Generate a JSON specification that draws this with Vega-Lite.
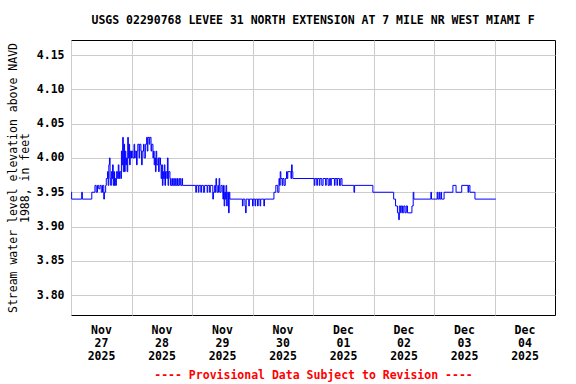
{
  "$schema": "https://vega.github.io/schema/vega-lite/v6.json",
  "width": 484,
  "height": 275,
  "autosize": {"type": "none"},
  "padding": {"left": 71, "top": 40, "right": 21, "bottom": 69},
  "background": "white",
  "config": {
    "view": {"stroke": "black", "strokeWidth": 1},
    "font": "DejaVu Sans Mono"
  },
  "title": {
    "text": "USGS 02290768 LEVEE 31 NORTH EXTENSION AT 7 MILE NR WEST MIAMI F",
    "font": "DejaVu Sans Mono",
    "fontSize": 11.5,
    "fontWeight": "bold",
    "color": "black",
    "anchor": "middle",
    "offset": 14
  },
  "data": {
    "values": [
      {"t": "2025-11-27T00:00", "v": 3.95},
      {"t": "2025-11-27T00:15", "v": 3.94},
      {"t": "2025-11-27T04:15", "v": 3.95},
      {"t": "2025-11-27T04:30", "v": 3.94},
      {"t": "2025-11-27T08:15", "v": 3.95},
      {"t": "2025-11-27T09:30", "v": 3.96},
      {"t": "2025-11-27T10:00", "v": 3.95},
      {"t": "2025-11-27T10:30", "v": 3.96},
      {"t": "2025-11-27T11:00", "v": 3.955},
      {"t": "2025-11-27T11:30", "v": 3.96},
      {"t": "2025-11-27T12:00", "v": 3.95},
      {"t": "2025-11-27T12:30", "v": 3.96},
      {"t": "2025-11-27T13:00", "v": 3.94},
      {"t": "2025-11-27T13:15", "v": 3.95},
      {"t": "2025-11-27T13:45", "v": 3.96},
      {"t": "2025-11-27T14:00", "v": 3.97},
      {"t": "2025-11-27T14:30", "v": 3.98},
      {"t": "2025-11-27T14:45", "v": 3.96},
      {"t": "2025-11-27T15:00", "v": 3.99},
      {"t": "2025-11-27T15:15", "v": 4.00},
      {"t": "2025-11-27T15:30", "v": 3.97},
      {"t": "2025-11-27T15:45", "v": 3.96},
      {"t": "2025-11-27T16:00", "v": 3.98},
      {"t": "2025-11-27T16:15", "v": 3.97},
      {"t": "2025-11-27T16:30", "v": 3.99},
      {"t": "2025-11-27T16:45", "v": 3.96},
      {"t": "2025-11-27T17:00", "v": 3.98},
      {"t": "2025-11-27T17:15", "v": 3.96},
      {"t": "2025-11-27T17:30", "v": 3.97},
      {"t": "2025-11-27T17:45", "v": 3.96},
      {"t": "2025-11-27T18:00", "v": 3.98},
      {"t": "2025-11-27T18:30", "v": 3.97},
      {"t": "2025-11-27T18:45", "v": 3.99},
      {"t": "2025-11-27T19:00", "v": 3.97},
      {"t": "2025-11-27T19:15", "v": 3.98},
      {"t": "2025-11-27T19:45", "v": 3.97},
      {"t": "2025-11-27T20:00", "v": 4.01},
      {"t": "2025-11-27T20:15", "v": 3.99},
      {"t": "2025-11-27T20:30", "v": 4.03},
      {"t": "2025-11-27T20:45", "v": 3.98},
      {"t": "2025-11-27T21:00", "v": 4.02},
      {"t": "2025-11-27T21:15", "v": 3.98},
      {"t": "2025-11-27T21:30", "v": 4.01},
      {"t": "2025-11-27T21:45", "v": 3.99},
      {"t": "2025-11-27T22:00", "v": 4.00},
      {"t": "2025-11-27T22:15", "v": 3.98},
      {"t": "2025-11-27T22:30", "v": 4.03},
      {"t": "2025-11-27T22:45", "v": 4.00},
      {"t": "2025-11-27T23:00", "v": 4.02},
      {"t": "2025-11-27T23:15", "v": 3.99},
      {"t": "2025-11-27T23:30", "v": 4.01},
      {"t": "2025-11-27T23:45", "v": 4.00},
      {"t": "2025-11-28T00:00", "v": 4.01},
      {"t": "2025-11-28T00:30", "v": 4.00},
      {"t": "2025-11-28T01:00", "v": 4.02},
      {"t": "2025-11-28T01:15", "v": 4.00},
      {"t": "2025-11-28T01:30", "v": 4.01},
      {"t": "2025-11-28T02:00", "v": 3.99},
      {"t": "2025-11-28T02:15", "v": 4.01},
      {"t": "2025-11-28T02:30", "v": 4.02},
      {"t": "2025-11-28T03:00", "v": 4.00},
      {"t": "2025-11-28T03:15", "v": 4.02},
      {"t": "2025-11-28T03:45", "v": 4.01},
      {"t": "2025-11-28T04:00", "v": 3.99},
      {"t": "2025-11-28T04:15", "v": 4.01},
      {"t": "2025-11-28T04:45", "v": 4.02},
      {"t": "2025-11-28T05:00", "v": 4.00},
      {"t": "2025-11-28T05:30", "v": 4.02},
      {"t": "2025-11-28T06:00", "v": 4.03},
      {"t": "2025-11-28T06:15", "v": 4.01},
      {"t": "2025-11-28T06:30", "v": 4.03},
      {"t": "2025-11-28T07:00", "v": 4.02},
      {"t": "2025-11-28T07:15", "v": 4.03},
      {"t": "2025-11-28T07:45", "v": 4.01},
      {"t": "2025-11-28T08:00", "v": 4.02},
      {"t": "2025-11-28T08:30", "v": 4.00},
      {"t": "2025-11-28T08:45", "v": 4.01},
      {"t": "2025-11-28T09:00", "v": 3.99},
      {"t": "2025-11-28T09:15", "v": 4.00},
      {"t": "2025-11-28T09:30", "v": 3.98},
      {"t": "2025-11-28T09:45", "v": 4.01},
      {"t": "2025-11-28T10:00", "v": 3.99},
      {"t": "2025-11-28T10:30", "v": 4.00},
      {"t": "2025-11-28T10:45", "v": 3.98},
      {"t": "2025-11-28T11:00", "v": 4.00},
      {"t": "2025-11-28T11:30", "v": 3.99},
      {"t": "2025-11-28T11:45", "v": 3.97},
      {"t": "2025-11-28T12:00", "v": 3.99},
      {"t": "2025-11-28T12:15", "v": 3.96},
      {"t": "2025-11-28T12:30", "v": 3.98},
      {"t": "2025-11-28T12:45", "v": 3.97},
      {"t": "2025-11-28T13:00", "v": 3.99},
      {"t": "2025-11-28T13:15", "v": 3.96},
      {"t": "2025-11-28T13:30", "v": 3.98},
      {"t": "2025-11-28T14:00", "v": 3.97},
      {"t": "2025-11-28T14:15", "v": 4.00},
      {"t": "2025-11-28T14:30", "v": 3.96},
      {"t": "2025-11-28T14:45", "v": 3.98},
      {"t": "2025-11-28T15:15", "v": 3.97},
      {"t": "2025-11-28T15:30", "v": 3.96},
      {"t": "2025-11-28T16:00", "v": 3.97},
      {"t": "2025-11-28T16:15", "v": 3.96},
      {"t": "2025-11-28T16:45", "v": 3.97},
      {"t": "2025-11-28T17:00", "v": 3.96},
      {"t": "2025-11-28T17:30", "v": 3.97},
      {"t": "2025-11-28T17:45", "v": 3.96},
      {"t": "2025-11-28T18:15", "v": 3.97},
      {"t": "2025-11-28T18:30", "v": 3.96},
      {"t": "2025-11-28T19:00", "v": 3.97},
      {"t": "2025-11-28T19:30", "v": 3.96},
      {"t": "2025-11-28T20:00", "v": 3.97},
      {"t": "2025-11-28T20:15", "v": 3.96},
      {"t": "2025-11-29T01:30", "v": 3.95},
      {"t": "2025-11-29T01:45", "v": 3.96},
      {"t": "2025-11-29T02:30", "v": 3.95},
      {"t": "2025-11-29T02:45", "v": 3.96},
      {"t": "2025-11-29T03:30", "v": 3.95},
      {"t": "2025-11-29T03:45", "v": 3.96},
      {"t": "2025-11-29T04:30", "v": 3.95},
      {"t": "2025-11-29T05:00", "v": 3.96},
      {"t": "2025-11-29T06:00", "v": 3.95},
      {"t": "2025-11-29T06:15", "v": 3.96},
      {"t": "2025-11-29T07:00", "v": 3.95},
      {"t": "2025-11-29T07:15", "v": 3.96},
      {"t": "2025-11-29T08:15", "v": 3.94},
      {"t": "2025-11-29T08:30", "v": 3.95},
      {"t": "2025-11-29T09:00", "v": 3.96},
      {"t": "2025-11-29T09:15", "v": 3.95},
      {"t": "2025-11-29T09:30", "v": 3.97},
      {"t": "2025-11-29T09:45", "v": 3.96},
      {"t": "2025-11-29T10:00", "v": 3.95},
      {"t": "2025-11-29T10:30", "v": 3.96},
      {"t": "2025-11-29T10:45", "v": 3.97},
      {"t": "2025-11-29T11:00", "v": 3.95},
      {"t": "2025-11-29T11:30", "v": 3.96},
      {"t": "2025-11-29T12:00", "v": 3.95},
      {"t": "2025-11-29T12:15", "v": 3.94},
      {"t": "2025-11-29T12:30", "v": 3.96},
      {"t": "2025-11-29T12:45", "v": 3.93},
      {"t": "2025-11-29T13:00", "v": 3.95},
      {"t": "2025-11-29T13:15", "v": 3.94},
      {"t": "2025-11-29T13:30", "v": 3.96},
      {"t": "2025-11-29T13:45", "v": 3.93},
      {"t": "2025-11-29T14:00", "v": 3.95},
      {"t": "2025-11-29T14:30", "v": 3.92},
      {"t": "2025-11-29T14:45", "v": 3.95},
      {"t": "2025-11-29T15:00", "v": 3.94},
      {"t": "2025-11-29T20:00", "v": 3.93},
      {"t": "2025-11-29T20:15", "v": 3.94},
      {"t": "2025-11-29T21:00", "v": 3.93},
      {"t": "2025-11-29T21:15", "v": 3.92},
      {"t": "2025-11-29T21:30", "v": 3.94},
      {"t": "2025-11-29T22:30", "v": 3.93},
      {"t": "2025-11-29T22:45", "v": 3.94},
      {"t": "2025-11-30T00:00", "v": 3.93},
      {"t": "2025-11-30T00:15", "v": 3.94},
      {"t": "2025-11-30T01:00", "v": 3.93},
      {"t": "2025-11-30T01:15", "v": 3.94},
      {"t": "2025-11-30T02:00", "v": 3.93},
      {"t": "2025-11-30T02:15", "v": 3.94},
      {"t": "2025-11-30T03:00", "v": 3.93},
      {"t": "2025-11-30T03:15", "v": 3.94},
      {"t": "2025-11-30T04:30", "v": 3.93},
      {"t": "2025-11-30T04:45", "v": 3.94},
      {"t": "2025-11-30T08:30", "v": 3.95},
      {"t": "2025-11-30T09:15", "v": 3.96},
      {"t": "2025-11-30T10:00", "v": 3.95},
      {"t": "2025-11-30T10:30", "v": 3.97},
      {"t": "2025-11-30T10:45", "v": 3.96},
      {"t": "2025-11-30T11:00", "v": 3.98},
      {"t": "2025-11-30T11:15", "v": 3.97},
      {"t": "2025-11-30T11:45", "v": 3.96},
      {"t": "2025-11-30T12:00", "v": 3.97},
      {"t": "2025-11-30T12:30", "v": 3.96},
      {"t": "2025-11-30T13:00", "v": 3.97},
      {"t": "2025-11-30T13:30", "v": 3.98},
      {"t": "2025-11-30T13:45", "v": 3.97},
      {"t": "2025-11-30T14:00", "v": 3.98},
      {"t": "2025-11-30T15:00", "v": 3.98},
      {"t": "2025-11-30T15:15", "v": 3.97},
      {"t": "2025-11-30T15:30", "v": 3.99},
      {"t": "2025-11-30T15:45", "v": 3.98},
      {"t": "2025-11-30T16:00", "v": 3.97},
      {"t": "2025-12-01T00:30", "v": 3.96},
      {"t": "2025-12-01T00:45", "v": 3.97},
      {"t": "2025-12-01T01:30", "v": 3.96},
      {"t": "2025-12-01T01:45", "v": 3.97},
      {"t": "2025-12-01T02:30", "v": 3.96},
      {"t": "2025-12-01T02:45", "v": 3.97},
      {"t": "2025-12-01T03:30", "v": 3.96},
      {"t": "2025-12-01T04:00", "v": 3.97},
      {"t": "2025-12-01T05:00", "v": 3.96},
      {"t": "2025-12-01T05:15", "v": 3.97},
      {"t": "2025-12-01T06:00", "v": 3.96},
      {"t": "2025-12-01T06:30", "v": 3.97},
      {"t": "2025-12-01T07:00", "v": 3.96},
      {"t": "2025-12-01T07:15", "v": 3.97},
      {"t": "2025-12-01T08:30", "v": 3.96},
      {"t": "2025-12-01T08:45", "v": 3.97},
      {"t": "2025-12-01T09:30", "v": 3.96},
      {"t": "2025-12-01T09:45", "v": 3.97},
      {"t": "2025-12-01T10:30", "v": 3.96},
      {"t": "2025-12-01T11:00", "v": 3.97},
      {"t": "2025-12-01T11:30", "v": 3.96},
      {"t": "2025-12-01T16:15", "v": 3.95},
      {"t": "2025-12-01T16:30", "v": 3.96},
      {"t": "2025-12-01T23:45", "v": 3.95},
      {"t": "2025-12-02T08:00", "v": 3.94},
      {"t": "2025-12-02T08:45", "v": 3.93},
      {"t": "2025-12-02T09:30", "v": 3.92},
      {"t": "2025-12-02T10:00", "v": 3.91},
      {"t": "2025-12-02T10:15", "v": 3.93},
      {"t": "2025-12-02T10:45", "v": 3.92},
      {"t": "2025-12-02T11:00", "v": 3.93},
      {"t": "2025-12-02T11:30", "v": 3.92},
      {"t": "2025-12-02T12:00", "v": 3.93},
      {"t": "2025-12-02T12:30", "v": 3.92},
      {"t": "2025-12-02T13:00", "v": 3.93},
      {"t": "2025-12-02T13:30", "v": 3.92},
      {"t": "2025-12-02T15:15", "v": 3.93},
      {"t": "2025-12-02T15:45", "v": 3.95},
      {"t": "2025-12-02T16:00", "v": 3.94},
      {"t": "2025-12-02T22:45", "v": 3.95},
      {"t": "2025-12-02T23:00", "v": 3.94},
      {"t": "2025-12-03T01:15", "v": 3.95},
      {"t": "2025-12-03T01:30", "v": 3.94},
      {"t": "2025-12-03T02:00", "v": 3.95},
      {"t": "2025-12-03T02:15", "v": 3.94},
      {"t": "2025-12-03T02:45", "v": 3.95},
      {"t": "2025-12-03T03:00", "v": 3.94},
      {"t": "2025-12-03T04:00", "v": 3.95},
      {"t": "2025-12-03T07:30", "v": 3.96},
      {"t": "2025-12-03T08:45", "v": 3.95},
      {"t": "2025-12-03T11:00", "v": 3.96},
      {"t": "2025-12-03T13:30", "v": 3.95},
      {"t": "2025-12-03T13:45", "v": 3.96},
      {"t": "2025-12-03T14:15", "v": 3.95},
      {"t": "2025-12-03T16:15", "v": 3.94},
      {"t": "2025-12-04T00:30", "v": 3.94}
    ]
  },
  "mark": {"type": "line", "interpolate": "step-after", "color": "#0000ff", "strokeWidth": 1, "clip": true},
  "encoding": {
    "x": {
      "field": "t",
      "type": "temporal",
      "scale": {
        "domain": [{"year": 2025, "month": 11, "date": 27}, {"year": 2025, "month": 12, "date": 5}]
      },
      "axis": {
        "values": [
          {"year": 2025, "month": 11, "date": 27},
          {"year": 2025, "month": 11, "date": 28},
          {"year": 2025, "month": 11, "date": 29},
          {"year": 2025, "month": 11, "date": 30},
          {"year": 2025, "month": 12, "date": 1},
          {"year": 2025, "month": 12, "date": 2},
          {"year": 2025, "month": 12, "date": 3},
          {"year": 2025, "month": 12, "date": 4}
        ],
        "labelExpr": "[timeFormat(datum.value, '%b'), timeFormat(datum.value, '%d'), timeFormat(datum.value, '%Y')]",
        "labelOffset": 30,
        "labelFlush": false,
        "labelOverlap": false,
        "labelFont": "DejaVu Sans Mono",
        "labelFontSize": 11.5,
        "labelFontWeight": "bold",
        "labelColor": "black",
        "labelLineHeight": 13,
        "labelPadding": 9,
        "ticks": false,
        "domain": false,
        "grid": true,
        "gridColor": "#cccccc",
        "gridOpacity": 1,
        "title": "---- Provisional Data Subject to Revision ----",
        "titleFont": "DejaVu Sans Mono",
        "titleFontSize": 11.5,
        "titleFontWeight": "bold",
        "titleColor": "red",
        "titlePadding": 8
      }
    },
    "y": {
      "field": "v",
      "type": "quantitative",
      "scale": {"domain": [3.771, 4.172], "nice": false, "zero": false},
      "axis": {
        "values": [3.8, 3.85, 3.9, 3.95, 4.0, 4.05, 4.1, 4.15],
        "format": ".2f",
        "labelFont": "DejaVu Sans Mono",
        "labelFontSize": 11.5,
        "labelFontWeight": "bold",
        "labelColor": "black",
        "labelPadding": 7,
        "ticks": false,
        "domain": false,
        "grid": true,
        "gridColor": "#cccccc",
        "gridOpacity": 1,
        "title": ["Stream water level elevation above NAVD", "1988, in feet"],
        "titleFont": "DejaVu Sans Mono",
        "titleFontSize": 11.5,
        "titleFontWeight": "normal",
        "titleColor": "black",
        "titleLineHeight": 12,
        "titlePadding": 6
      }
    }
  }
}
